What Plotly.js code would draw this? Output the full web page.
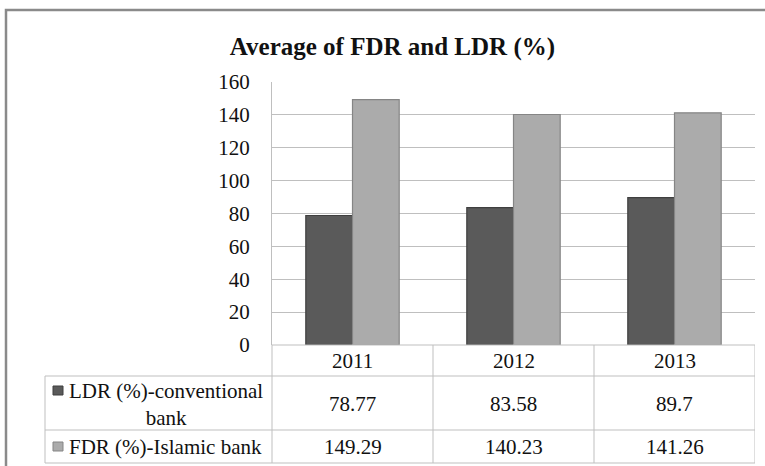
<!DOCTYPE html>
<html>
<head>
<meta charset="utf-8">
<script src="https://cdn.plot.ly/plotly-3.0.1.min.js"></script>
<style>html,body{margin:0;padding:0;background:#fff;}#chart{width:765px;height:466px;}</style>
</head>
<body>
<div id="chart"></div>
<script>
const years = ["2011", "2012", "2013"];
const ldrConventional = [78.77, 83.58, 89.7];
const fdrIslamic = [149.29, 140.23, 141.26];
const seriesNames = ["LDR (%)-conventional<br>bank", "FDR (%)-Islamic bank"];
const yTicks = [0, 20, 40, 60, 80, 100, 120, 140, 160];

const W = 765, H = 466;
const L = 272, R = 755, T = 82, B = 345;
const px = x => (x - L) / (R - L);
const py = y => (B - y) / (B - T);
const serif = "Liberation Serif";
const grid = "#bfbfbf";

const traces = [
  {type: "bar", x: years, y: ldrConventional, name: seriesNames[0],
   marker: {color: "#5a5a5a", line: {color: "#3f3f3f", width: 1.2}}, hoverinfo: "y"},
  {type: "bar", x: years, y: fdrIslamic, name: seriesNames[1],
   marker: {color: "#ababab", line: {color: "#858585", width: 1.2}}, hoverinfo: "y"}
];

const shapes = [];
const line = (x0, y0, x1, y1, xr) => shapes.push({type: "line", xref: xr || "paper", yref: "paper",
  x0, y0, x1, y1, line: {color: grid, width: 1}});
// table horizontal lines
line(px(272), py(345), px(755), py(345));
[376, 430, 463].forEach(y => line(px(45), py(y), px(755), py(y)));
// table vertical lines
line(px(45), py(376), px(45), py(463));
line(px(272), py(345), px(272), py(463));
years.forEach((_, i) => line(i + 0.5, py(345), i + 0.5, py(463), "x"));
// legend keys
shapes.push({type: "rect", xref: "paper", yref: "paper", x0: px(53), x1: px(63), y0: py(386), y1: py(395),
  fillcolor: "#5a5a5a", line: {color: "#3f3f3f", width: 1}});
shapes.push({type: "rect", xref: "paper", yref: "paper", x0: px(53), x1: px(63), y0: py(442), y1: py(451),
  fillcolor: "#ababab", line: {color: "#858585", width: 1}});
// outer frame
shapes.push({type: "rect", xref: "paper", yref: "paper", x0: px(6), x1: px(790), y0: py(490), y1: py(10),
  line: {color: "#8a8a8a", width: 2.5}, layer: "below"});

const annotations = [];
const tfont = {family: serif, size: 21, color: "#111"};
years.forEach((yr, i) => {
  annotations.push({xref: "x", yref: "paper", x: i, y: py(361), text: yr, showarrow: false, font: tfont, xanchor: "center", yanchor: "middle"});
  annotations.push({xref: "x", yref: "paper", x: i, y: py(404), text: String(ldrConventional[i]), showarrow: false, font: tfont, xanchor: "center", yanchor: "middle"});
  annotations.push({xref: "x", yref: "paper", x: i, y: py(447), text: String(fdrIslamic[i]), showarrow: false, font: tfont, xanchor: "center", yanchor: "middle"});
});
annotations.push({xref: "paper", yref: "paper", x: px(166), y: py(404), text: seriesNames[0], showarrow: false, font: tfont, align: "center", xanchor: "center", yanchor: "middle"});
annotations.push({xref: "paper", yref: "paper", x: px(165), y: py(447), text: seriesNames[1], showarrow: false, font: tfont, align: "center", xanchor: "center", yanchor: "middle"});

const layout = {
  width: W, height: H,
  margin: {l: L, r: W - R, t: T, b: H - B},
  paper_bgcolor: "#fff", plot_bgcolor: "#fff",
  title: {text: "<b>Average of FDR and LDR (%)</b>", x: 0.513, xanchor: "center", y: 1 - 46 / H, yanchor: "middle",
    font: {family: serif, size: 25, color: "#111"}},
  showlegend: false,
  barmode: "group", bargap: 0.42, bargroupgap: 0,
  xaxis: {type: "category", range: [-0.5, 2.5], showticklabels: false, showgrid: false, zeroline: false, showline: false, ticks: ""},
  yaxis: {range: [0, 160], tickvals: yTicks, ticktext: yTicks.map(String), showgrid: true, gridcolor: grid, gridwidth: 1,
    zeroline: false, showline: true, linecolor: grid, linewidth: 1, ticks: "", ticklabelstandoff: 17,
    tickfont: {family: serif, size: 21, color: "#111"}},
  shapes, annotations
};

Plotly.newPlot("chart", traces, layout, {displayModeBar: false, staticPlot: true});
</script>
</body>
</html>
